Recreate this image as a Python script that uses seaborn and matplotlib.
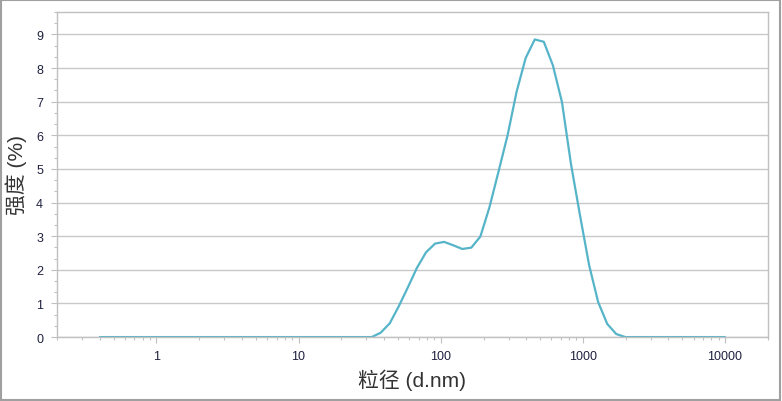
import numpy as np
import pandas as pd
import matplotlib
matplotlib.use("Agg")
import matplotlib.pyplot as plt
import matplotlib.ticker as mticker
from matplotlib.patches import Rectangle
import seaborn as sns

# size bins (d.nm) and intensity (%)
size_nm = [0.4, 0.4632, 0.5365, 0.6213, 0.7195, 0.8332, 0.9649, 1.117, 1.294, 1.499,
           1.736, 2.01, 2.328, 2.696, 3.122, 3.615, 4.187, 4.849, 5.615, 6.503,
           7.531, 8.721, 10.1, 11.7, 13.54, 15.69, 18.17, 21.04, 24.36, 28.21,
           32.67, 37.84, 43.82, 50.75, 58.77, 68.06, 78.82, 91.28, 105.7, 122.4,
           141.8, 164.2, 190.1, 220.2, 255.0, 295.3, 342.0, 396.1, 458.7, 531.2,
           615.1, 712.4, 825.0, 955.4, 1106, 1281, 1484, 1718, 1990, 2305,
           2669, 3091, 3580, 4145, 4801, 5560, 6439, 7456, 8635, 10000]
intensity = [0, 0, 0, 0, 0, 0, 0, 0, 0, 0,
             0, 0, 0, 0, 0, 0, 0, 0, 0, 0,
             0, 0, 0, 0, 0, 0, 0, 0, 0, 0,
             0, 0.13, 0.41, 0.92, 1.48, 2.06, 2.52, 2.78, 2.83, 2.73,
             2.62, 2.66, 2.99, 3.86, 4.92, 6.0, 7.30, 8.30, 8.85, 8.78,
             8.08, 6.99, 5.14, 3.61, 2.14, 1.04, 0.39, 0.09, 0, 0,
             0, 0, 0, 0, 0, 0, 0, 0, 0, 0]

df = pd.DataFrame({"size": size_nm, "intensity": intensity})

sns.set_style("white")
plt.rcParams["font.family"] = ["Liberation Sans", "Noto Sans CJK SC", "DejaVu Sans"]

fig = plt.figure(figsize=(7.82, 4.02), dpi=100)
ax = fig.add_axes([0.0729, 0.159, 0.909, 0.809])

ax.yaxis.grid(True, color="#c8c8c8", linewidth=1.0)
ax.set_axisbelow(True)

sns.lineplot(data=df, x="size", y="intensity", ax=ax, color="#56b4c9", linewidth=1.6)

ax.set_xscale("log")
ax.set_xlim(0.2, 20000)
ax.set_ylim(0, 9.67)

ax.xaxis.set_major_locator(mticker.FixedLocator([1, 10, 100, 1000, 10000]))
ax.xaxis.set_major_formatter(mticker.FixedFormatter(["1", "10", "100", "1000", "10000"]))
ax.xaxis.set_minor_locator(mticker.LogLocator(base=10, subs=np.arange(2, 10), numticks=20))
ax.xaxis.set_minor_formatter(mticker.NullFormatter())

ax.yaxis.set_major_locator(mticker.MultipleLocator(1))
ax.yaxis.set_minor_locator(mticker.MultipleLocator(1 / 3))

for s in ax.spines.values():
    s.set_color("#c0c0c0")
    s.set_linewidth(1.0)

ax.tick_params(axis="both", which="both", bottom=True, left=True, color="#c0c0c0", width=0.8)
ax.tick_params(axis="both", which="major", length=4, labelsize=9, labelcolor="#202040")
ax.tick_params(axis="both", which="minor", length=2.5)
ax.tick_params(axis="x", which="major", pad=5)
ax.tick_params(axis="y", which="major", pad=6)

ax.set_xlabel("粒径 (d.nm)", fontsize=15, color="#333333", labelpad=5)
ax.set_ylabel("强度 (%)", fontsize=15, color="#333333")
ax.yaxis.set_label_coords(-0.042, 0.5)

fig.patches.append(Rectangle((0.001, 0.002), 0.997, 0.996, transform=fig.transFigure,
                             fill=False, edgecolor="#a0a0a0", linewidth=1.5))

fig.savefig("out.png", dpi=100)
